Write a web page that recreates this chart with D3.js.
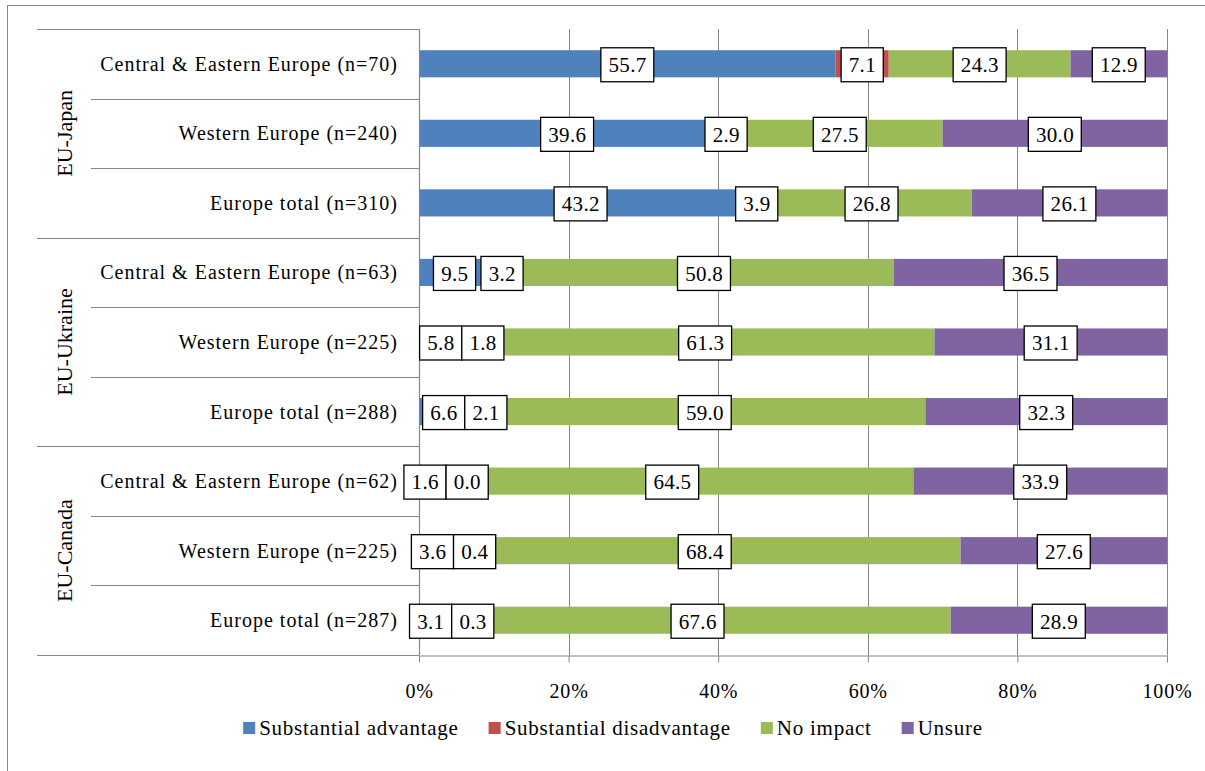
<!DOCTYPE html>
<html>
<head>
<meta charset="utf-8">
<script src="https://cdn.jsdelivr.net/npm/d3@7"></script>
<style>
  html, body { margin: 0; padding: 0; background: #fff; }
  svg { display: block; }
</style>
</head>
<body>
<svg id="chart" width="1205" height="771" font-family="Liberation Serif"></svg>
<script>
// ---------- data ----------
const groups = ["EU-Japan", "EU-Ukraine", "EU-Canada"];
const rowLabels = [
  "Central & Eastern Europe (n=70)", "Western Europe (n=240)", "Europe total (n=310)",
  "Central & Eastern Europe (n=63)", "Western Europe (n=225)", "Europe total (n=288)",
  "Central & Eastern Europe (n=62)", "Western Europe (n=225)", "Europe total (n=287)"
];
const rowGroup = [0, 0, 0, 1, 1, 1, 2, 2, 2];
const seriesNames = ["Substantial advantage", "Substantial disadvantage", "No impact", "Unsure"];
const advantage    = [55.7, 39.6, 43.2, 9.5, 5.8, 6.6, 1.6, 3.6, 3.1];
const disadvantage = [7.1, 2.9, 3.9, 3.2, 1.8, 2.1, 0.0, 0.4, 0.3];
const noImpact     = [24.3, 27.5, 26.8, 50.8, 61.3, 59.0, 64.5, 68.4, 67.6];
const unsure       = [12.9, 30.0, 26.1, 36.5, 31.1, 32.3, 33.9, 27.6, 28.9];
const tickValues = [0, 0.2, 0.4, 0.6, 0.8, 1.0];
const colors = ["#4F81BD", "#C0504D", "#9BBB59", "#8064A2"];

// ---------- layout ----------
const FONT = "Liberation Serif";
const svg = d3.select("#chart");
const plotLeft = 419, plotRight = 1167, plotTop = 29, plotBottom = 655;
const gridColor = "#868686";

// outer frame
svg.append("rect").attr("x", 7.5).attr("y", 5.5).attr("width", 1400).attr("height", 1000)
  .attr("fill", "none").attr("stroke", gridColor).attr("stroke-width", 1);

const table = rowLabels.map((label, i) => ({
  label, adv: advantage[i], dis: disadvantage[i], no: noImpact[i], un: unsure[i]
}));
const keys = ["adv", "dis", "no", "un"];
const stacked = d3.stack().keys(keys).offset(d3.stackOffsetExpand)(table);

const x = d3.scaleLinear().domain([0, 1]).range([plotLeft, plotRight]);
const y = d3.scaleBand().domain(d3.range(rowLabels.length)).range([plotTop, plotBottom])
  .paddingInner(0.61).paddingOuter(0.305);
const step = y.step();

// gridlines
svg.append("g").selectAll("line").data(tickValues.slice(1)).join("line")
  .attr("x1", d => Math.round(x(d)) + 0.5).attr("x2", d => Math.round(x(d)) + 0.5)
  .attr("y1", plotTop).attr("y2", plotBottom)
  .attr("stroke", gridColor).attr("stroke-width", 1);

// bars
const barG = svg.append("g");
stacked.forEach((s, si) => {
  barG.append("g").attr("fill", colors[si]).selectAll("rect").data(s).join("rect")
    .attr("x", d => x(d[0]))
    .attr("width", d => Math.max(0, x(d[1]) - x(d[0])))
    .attr("y", (d, i) => y(i))
    .attr("height", y.bandwidth());
});

// category separators
const sepYs = d3.range(rowLabels.length + 1).map(i => plotTop + i * step);
svg.append("g").selectAll("line").data(sepYs).join("line")
  .attr("x1", (d, i) => (i % 3 === 0 ? 37 : 91)).attr("x2", plotLeft)
  .attr("y1", d => Math.round(d) + 0.5).attr("y2", d => Math.round(d) + 0.5)
  .attr("stroke", gridColor).attr("stroke-width", 1.2);

// left axis line
svg.append("line").attr("x1", plotLeft + 0.5).attr("x2", plotLeft + 0.5)
  .attr("y1", plotTop).attr("y2", plotBottom).attr("stroke", gridColor).attr("stroke-width", 1.2);

// bottom axis
const xAxis = d3.axisBottom(x).tickValues(tickValues).tickFormat(d => Math.round(d * 100) + "%")
  .tickSize(7).tickPadding(21).tickSizeOuter(0);
const axG = svg.append("g").attr("transform", `translate(0,${Math.round(plotBottom) + 0.5})`).call(xAxis)
  .attr("font-family", FONT);
axG.select(".domain").attr("stroke", gridColor).attr("stroke-width", 1.2);
axG.selectAll(".tick line").attr("stroke", gridColor);
axG.selectAll(".tick text").attr("fill", "#000").attr("font-size", 20)
  .attr("font-family", FONT).attr("letter-spacing", 0.8);

// row labels
svg.append("g").selectAll("text").data(rowLabels).join("text")
  .attr("x", 398).attr("y", (d, i) => y(i) + y.bandwidth() / 2)
  .attr("dy", "0.35em").attr("text-anchor", "end").attr("font-family", FONT)
  .attr("font-size", 20).attr("letter-spacing", 1.0).attr("fill", "#000")
  .text(d => d);

// group labels
groups.forEach((g, gi) => {
  const idx = rowGroup.map((v, i) => v === gi ? i : -1).filter(i => i >= 0);
  const y0 = plotTop + idx[0] * step, y1 = plotTop + (idx[idx.length - 1] + 1) * step;
  svg.append("text").attr("transform", `translate(64.5,${(y0 + y1) / 2}) rotate(-90)`)
    .attr("dy", "0.35em").attr("text-anchor", "middle").attr("font-family", FONT)
    .attr("font-size", 22).attr("fill", "#000")
    .text(g);
});

// data labels with simple collision avoidance
const labG = svg.append("g");
const boxH = 34, padX = 7.5;
table.forEach((row, i) => {
  const cy = y(i) + y.bandwidth() / 2;
  let prevRight = -Infinity;
  stacked.forEach((s, si) => {
    const d = s[i];
    const val = row[keys[si]];
    const g = labG.append("g");
    const t = g.append("text").attr("font-size", 21).attr("letter-spacing", 0.3).attr("font-family", FONT)
      .attr("text-anchor", "middle").attr("dy", "0.35em").attr("fill", "#000")
      .text(val.toFixed(1));
    const w = t.node().getComputedTextLength() + 2 * padX;
    let cx = (x(d[0]) + x(d[1])) / 2;
    if (cx - w / 2 < prevRight) cx = prevRight + w / 2;
    prevRight = cx + w / 2;
    t.attr("x", cx + 0.2).attr("y", cy + 1);
    g.insert("rect", "text").attr("x", cx - w / 2).attr("y", cy - boxH / 2 + 1)
      .attr("width", w).attr("height", boxH)
      .attr("fill", "#fff").attr("stroke", "#000").attr("stroke-width", 1.3);
  });
});

// legend
const legY = 728, sq = 12, gap = 30, textOff = 4;
const legG = svg.append("g");
const items = seriesNames.map((name, i) => {
  const g = legG.append("g");
  g.append("rect").attr("width", sq).attr("height", sq).attr("y", legY - sq / 2).attr("fill", colors[i]);
  const t = g.append("text").attr("x", sq + textOff).attr("y", legY).attr("dy", "0.35em").attr("font-family", FONT)
    .attr("font-size", 21).attr("letter-spacing", 0.75).attr("fill", "#000").text(name);
  return { g, w: sq + textOff + t.node().getComputedTextLength() };
});
const totalW = d3.sum(items, d => d.w) + gap * (items.length - 1);
let lx = 613 - totalW / 2;
items.forEach(it => { it.g.attr("transform", `translate(${lx},0)`); lx += it.w + gap; });
</script>
</body>
</html>
